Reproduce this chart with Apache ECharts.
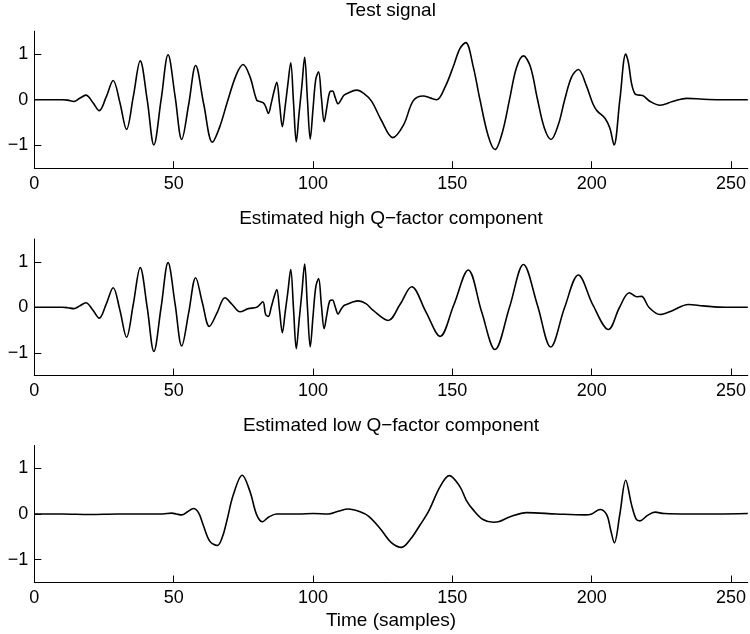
<!DOCTYPE html>
<html><head><meta charset="utf-8">
<script src="https://cdn.jsdelivr.net/npm/echarts@6/dist/echarts.min.js"></script>
<style>html,body{margin:0;padding:0;background:#fff}#c{width:750px;height:634px}</style>
</head><body><div id="c"></div>
<script>
const panelTitles = ['Test signal', 'Estimated high Q\u2212factor component', 'Estimated low Q\u2212factor component'];
const xAxisTitle = 'Time (samples)';
const xTicks = [0, 50, 100, 150, 200, 250];
const yTicks = [-1, 0, 1];

const testSignal = [[0,0],[5,0],[10,0],[12,-0.01],[14.2,-0.04],[16.3,0.03],[18.5,0.10],[21,-0.06],[23.3,-0.24],[25.8,0.06],[28.3,0.42],[30.7,-0.06],[33.1,-0.65],[35.5,0.06],[38,0.85],[40.5,0.0],[42.9,-0.99],[45.5,0.0],[48,0.985],[50.5,0.08],[52.9,-0.87],[55.4,-0.1],[57.9,0.75],[60.8,-0.1],[63.9,-0.93],[66.5,-0.6],[69.5,0.0],[72.5,0.55],[74.9,0.77],[77.4,0.5],[79.8,-0.01],[81,-0.04],[82.2,-0.07],[83,-0.15],[84,-0.30],[85,-0.08],[86,0.18],[87,0.38],[88,-0.1],[89,-0.59],[90,-0.15],[91,0.35],[92,0.81],[93,-0.05],[94,-0.92],[95,-0.3],[96,0.3],[97,0.93],[98,0.0],[99,-0.86],[100,-0.2],[101,0.45],[102,0.61],[103,0.05],[104,-0.48],[105,-0.15],[106,0.17],[107,0.19],[108,0.04],[109,-0.09],[110,-0.01],[111,0.09],[112,0.13],[115.7,0.21],[118.2,0.14],[121,-0.03],[124.5,-0.45],[128.6,-0.83],[132.5,-0.55],[136,-0.02],[139.6,0.08],[142,0.04],[144.4,0.0],[147.4,0.28],[150.3,0.72],[152.7,1.12],[154.8,1.25],[157.5,0.72],[159.9,0.0],[162.9,-0.8],[165.3,-1.09],[168,-0.7],[170.5,0.0],[173,0.7],[175.5,0.96],[178,0.72],[180.5,0.02],[183,-0.62],[185.4,-0.87],[188,-0.55],[190.3,0.0],[192.8,0.5],[195.2,0.66],[198,0.32],[200.5,-0.1],[202,-0.25],[204.8,-0.41],[206.5,-0.62],[208,-0.99],[210.1,0.0],[212.2,1.0],[213.2,0.8],[214.3,0.35],[215.5,0.13],[217,0.1],[218.3,0.09],[221,-0.04],[224.5,-0.12],[229,-0.04],[234.1,0.03],[240,0.01],[246,0.0],[256,0.0]];

const highQ = [[0,0],[5,0],[10,0],[12,-0.01],[14.2,-0.03],[16.3,0.03],[18.5,0.10],[21,-0.06],[23.3,-0.24],[25.8,0.07],[28.3,0.43],[30.7,-0.06],[33.1,-0.66],[35.5,0.06],[38,0.87],[40.5,0.0],[42.9,-0.97],[45.5,0.0],[48,0.98],[50.5,0.08],[52.9,-0.85],[55.4,-0.12],[57.9,0.65],[60.3,0.1],[62.8,-0.42],[65.6,-0.12],[68.4,0.21],[71,0.06],[73.8,-0.10],[76.8,-0.03],[79.8,0.0],[82,0.12],[83,-0.16],[84,-0.2],[85,0.0],[86,0.22],[87,0.39],[88,-0.08],[89,-0.56],[90,-0.12],[91,0.35],[92,0.83],[93,-0.03],[94,-0.91],[95,-0.3],[96,0.32],[97,0.95],[98,0.0],[99,-0.87],[100,-0.2],[101,0.45],[102,0.63],[103,0.05],[104,-0.47],[105,-0.15],[106,0.14],[107,0.16],[108,0.0],[109,-0.15],[110,-0.05],[111,0.03],[112,0.06],[114,0.11],[116.3,0.14],[119,0.08],[121.6,-0.07],[127,-0.29],[131.2,0.06],[135.4,0.45],[140.5,-0.1],[145.6,-0.64],[150.5,0.05],[155.7,0.82],[160.5,-0.1],[165.3,-0.93],[170.5,0.0],[175.5,0.94],[180.5,0.05],[185.3,-0.875],[190.3,0.0],[195.2,0.71],[200.5,0.04],[206,-0.49],[210,0.0],[213.5,0.32],[216.1,0.23],[217.9,0.24],[220.5,0.0],[224.5,-0.16],[228.7,-0.08],[234.7,0.06],[240,0.03],[248,0.0],[256,0.0]];

const lowQ = [[0,0],[10,0],[20,-0.01],[30,0.0],[40,0.0],[46,0.0],[49.3,0.02],[51,0.0],[52.9,-0.02],[55,0.05],[57.1,0.12],[59,0.02],[60.6,-0.24],[63,-0.6],[65.7,-0.69],[67.5,-0.5],[69,-0.17],[71.4,0.42],[74.6,0.85],[77.4,0.49],[79.8,-0.02],[81.9,-0.17],[84,-0.07],[87,0.0],[95,0.0],[100,0.01],[105.5,0.0],[109,0.06],[112.7,0.11],[116.9,0.05],[120,-0.05],[124,-0.31],[128,-0.62],[131.8,-0.73],[135,-0.55],[138.4,-0.24],[141.4,0.05],[145.6,0.6],[148.9,0.84],[152.7,0.6],[155,0.3],[157.5,0.09],[161,-0.12],[164.7,-0.18],[166.5,-0.17],[170.7,-0.06],[176.7,0.03],[187.4,0.0],[197.6,-0.02],[200,0.0],[203,0.10],[205.4,-0.02],[206.8,-0.35],[208.1,-0.63],[210.1,0.0],[212.2,0.74],[214.3,0.2],[216,-0.12],[217.3,-0.15],[220,-0.03],[222.7,0.04],[226,0.01],[235,0.0],[245,0.0],[256,0.01]];

const seriesData = [testSignal, highQ, lowQ];

const FONT = '"Liberation Sans", Arial, Helvetica, sans-serif';
const gridTops = [31.2, 239, 445.5];
const gridHeights = [137, 136.5, 137];
const titleCenters = [11, 218.5, 425.5];
const plotCenterX = 391;

const chart = echarts.init(document.getElementById('c'), null, {renderer: 'canvas'});
const minusFmt = v => String(v).replace('-', '\u2212');

const option = {
  animation: false,
  backgroundColor: '#fff',
  grid: gridTops.map((t, i) => ({left: 34.3, width: 713.5, top: t, height: gridHeights[i], containLabel: false})),
  xAxis: seriesData.map((d, i) => ({
    type: 'value', gridIndex: i, min: 0, max: 256,
    axisLine: {onZero: false, lineStyle: {color: '#000', width: 1}},
    axisTick: {inside: true, length: 7, customValues: xTicks, lineStyle: {color: '#000', width: 1}},
    axisLabel: {customValues: xTicks, margin: 7, color: '#000', fontSize: 18, fontFamily: FONT},
    splitLine: {show: false}
  })),
  yAxis: seriesData.map((d, i) => ({
    type: 'value', gridIndex: i, min: -1.5, max: 1.5,
    axisLine: {show: true, onZero: false, lineStyle: {color: '#000', width: 1}},
    axisTick: {show: true, inside: true, length: 7, customValues: yTicks, lineStyle: {color: '#000', width: 1}},
    axisLabel: {customValues: yTicks, margin: 6, color: '#000', fontSize: 18, fontFamily: FONT, formatter: minusFmt},
    splitLine: {show: false}
  })),
  series: seriesData.map((d, i) => ({
    type: 'line', xAxisIndex: i, yAxisIndex: i, data: d,
    showSymbol: false, smooth: 0.35,
    lineStyle: {color: '#000', width: 1.6}
  })),
  graphic: panelTitles.map((t, i) => ({
    type: 'text', x: plotCenterX, y: titleCenters[i],
    style: {text: t, fill: '#000', font: '19px ' + FONT, align: 'center', verticalAlign: 'middle'}
  })).concat([{
    type: 'text', x: plotCenterX, y: 621,
    style: {text: xAxisTitle, fill: '#000', font: '19px ' + FONT, align: 'center', verticalAlign: 'middle'}
  }])
};
chart.setOption(option);
</script></body></html>
